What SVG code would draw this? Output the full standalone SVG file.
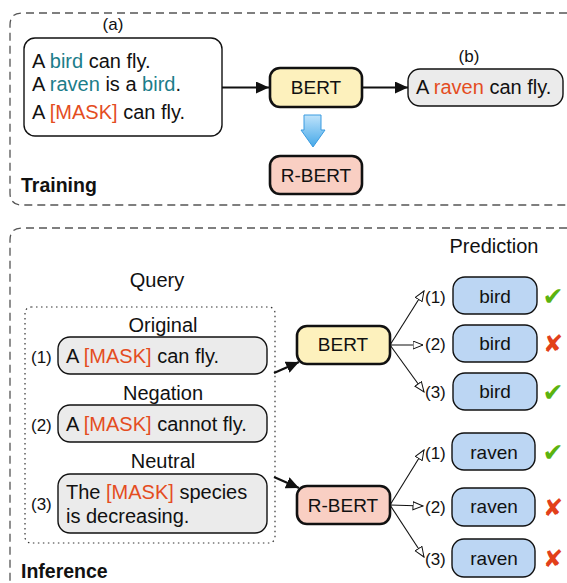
<svg xmlns="http://www.w3.org/2000/svg" width="567" height="583" viewBox="0 0 567 583">
<defs>
<style>
text{font-family:"Liberation Sans",Arial,sans-serif;font-size:20px;fill:#111}
.lbl{font-size:17px}
.nd{font-size:19px}
.b{font-weight:bold;font-size:19.5px}
.c{text-anchor:middle}
.teal{fill:#1b7d8a}
.org{fill:#e44d1f}
.frame{fill:none;stroke:#555;stroke-width:1.3;stroke-dasharray:8 5}
.dot{fill:none;stroke:#333;stroke-width:1.2;stroke-dasharray:1.5 3.5}
.txt{fill:#fff;stroke:#111;stroke-width:1.4}
.gray{fill:#ebebeb;stroke:#111;stroke-width:1.4}
.pred{fill:#bcd6f3;stroke:#111;stroke-width:1.4}
.bert{fill:#fdf1bd;stroke:#111;stroke-width:2.6}
.rbert{fill:#f9cfc3;stroke:#111;stroke-width:2.6}
.thick{stroke:#111;stroke-width:2.2;fill:none}
.thin{stroke:#111;stroke-width:1.1;fill:none}
.ok{font-family:"DejaVu Sans",sans-serif;font-size:25px;fill:#5bb30f;text-anchor:middle}
.no{font-family:"DejaVu Sans",sans-serif;font-size:24px;fill:#e2401a;text-anchor:middle}
</style>
<marker id="ah" markerUnits="userSpaceOnUse" markerWidth="14" markerHeight="12" refX="13" refY="6" orient="auto">
<path d="M0,0 L13,6 L0,12 z" fill="#111"/>
</marker>
<marker id="oh" markerUnits="userSpaceOnUse" markerWidth="12" markerHeight="10" refX="10.5" refY="4.5" orient="auto">
<path d="M0.5,0.5 L10.5,4.5 L0.5,8.5 z" fill="#fff" stroke="#111" stroke-width="1"/>
</marker>
<linearGradient id="bg" x1="0" y1="0" x2="0" y2="1">
<stop offset="0" stop-color="#bfe3fb"/>
<stop offset="1" stop-color="#45a8e8"/>
</linearGradient>
</defs>

<!-- frames -->
<g id="training-frame">
<path class="frame" d="M580,13 L22,13 Q10,13 10,25 L10,193 Q10,205 22,205 L580,205"/>
<text x="21" y="192" class="b">Training</text>
</g>
<g id="inference-frame">
<path class="frame" d="M580,228 L22,228 Q10,228 10,240 L10,600"/>
<text x="21" y="578" class="b">Inference</text>
</g>

<!-- training nodes -->
<g id="input-a">
<text x="113" y="30" class="lbl c">(a)</text>
<rect class="txt" x="24" y="38" width="198" height="98" rx="11"/>
<text x="32" y="68">A <tspan class="teal">bird</tspan> can fly.</text>
<text x="32" y="91">A <tspan class="teal">raven</tspan> is a <tspan class="teal">bird</tspan>.</text>
<text x="32" y="119">A <tspan class="org">[MASK]</tspan> can fly.</text>
</g>
<g id="bert-train">
<rect class="bert" x="270" y="68" width="92" height="39" rx="10"/>
<text x="316" y="94" class="nd c">BERT</text>
</g>
<g id="output-b">
<text x="469" y="62" class="lbl c">(b)</text>
<rect class="gray" x="408" y="69" width="155" height="37" rx="12"/>
<text x="416" y="94">A <tspan class="org">raven</tspan> can fly.</text>
</g>
<g id="rbert-train">
<rect class="rbert" x="270" y="156" width="92" height="38" rx="10"/>
<text x="316" y="182" class="nd c">R-BERT</text>
</g>
<g id="blue-arrow">
<path d="M304,115 L321,115 L321,130 L325,130 L313,147 L301,130 L304,130 z" fill="url(#bg)" stroke="#3a9be0" stroke-width="1"/>
</g>

<!-- inference: query -->
<g id="query">
<text x="157" y="287" class="c">Query</text>
<rect class="dot" x="25" y="307" width="250" height="236" rx="6"/>
</g>
<g id="q1">
<text x="163" y="332" class="c">Original</text>
<text x="31" y="363" class="lbl">(1)</text>
<rect class="gray" x="58" y="337" width="209" height="37" rx="12"/>
<text x="66" y="363">A <tspan class="org">[MASK]</tspan> can fly.</text>
</g>
<g id="q2">
<text x="163" y="400" class="c">Negation</text>
<text x="31" y="431" class="lbl">(2)</text>
<rect class="gray" x="58" y="405" width="209" height="37" rx="12"/>
<text x="66" y="431">A <tspan class="org">[MASK]</tspan> cannot fly.</text>
</g>
<g id="q3">
<text x="163" y="468" class="c">Neutral</text>
<text x="31" y="510" class="lbl">(3)</text>
<rect class="gray" x="58" y="474" width="209" height="59" rx="12"/>
<text x="66" y="499">The <tspan class="org">[MASK]</tspan> species</text>
<text x="66" y="523">is decreasing.</text>
</g>

<g id="bert-inf">
<rect class="bert" x="297" y="326" width="93" height="38" rx="10"/>
<text x="343" y="351" class="nd c">BERT</text>
</g>
<g id="rbert-inf">
<rect class="rbert" x="297" y="486" width="93" height="38" rx="10"/>
<text x="343" y="512" class="nd c">R-BERT</text>
</g>

<!-- predictions -->
<g id="prediction-title"><text x="494" y="253" class="c">Prediction</text></g>
<g id="p-bert-1">
<text x="425" y="303" class="lbl">(1)</text>
<rect class="pred" x="453" y="277" width="84" height="37" rx="12"/>
<text x="495" y="303" class="nd c">bird</text>
<text x="553" y="305" class="ok">✔</text>
</g>
<g id="p-bert-2">
<text x="425" y="350" class="lbl">(2)</text>
<rect class="pred" x="453" y="325" width="84" height="37" rx="12"/>
<text x="495" y="350" class="nd c">bird</text>
<text x="553" y="352" class="no">✘</text>
</g>
<g id="p-bert-3">
<text x="425" y="398" class="lbl">(3)</text>
<rect class="pred" x="453" y="373" width="84" height="37" rx="12"/>
<text x="495" y="398" class="nd c">bird</text>
<text x="553" y="401" class="ok">✔</text>
</g>
<g id="p-rbert-1">
<text x="425" y="459" class="lbl">(1)</text>
<rect class="pred" x="452" y="433" width="83" height="37" rx="12"/>
<text x="494" y="459" class="nd c">raven</text>
<text x="553" y="461" class="ok">✔</text>
</g>
<g id="p-rbert-2">
<text x="425" y="513" class="lbl">(2)</text>
<rect class="pred" x="452" y="488" width="83" height="38" rx="12"/>
<text x="494" y="513" class="nd c">raven</text>
<text x="553" y="516" class="no">✘</text>
</g>
<g id="p-rbert-3">
<text x="425" y="565" class="lbl">(3)</text>
<rect class="pred" x="452" y="539" width="83" height="38" rx="12"/>
<text x="494" y="565" class="nd c">raven</text>
<text x="553" y="567" class="no">✘</text>
</g>

<!-- connectors -->
<g id="connectors">
<line class="thick" x1="222" y1="87.5" x2="269" y2="87.5" marker-end="url(#ah)"/>
<line class="thick" x1="362" y1="87.5" x2="408" y2="87.5" marker-end="url(#ah)"/>
<line class="thick" x1="274" y1="373" x2="299" y2="362" marker-end="url(#ah)"/>
<line class="thick" x1="274" y1="477" x2="299" y2="488" marker-end="url(#ah)"/>
<line class="thin" x1="390" y1="345" x2="424" y2="291" marker-end="url(#oh)"/>
<line class="thin" x1="390" y1="345" x2="423" y2="345" marker-end="url(#oh)"/>
<line class="thin" x1="390" y1="345" x2="424" y2="392" marker-end="url(#oh)"/>
<line class="thin" x1="390" y1="505" x2="424" y2="450" marker-end="url(#oh)"/>
<line class="thin" x1="390" y1="505" x2="423" y2="506" marker-end="url(#oh)"/>
<line class="thin" x1="390" y1="505" x2="424" y2="557" marker-end="url(#oh)"/>
</g>
</svg>
